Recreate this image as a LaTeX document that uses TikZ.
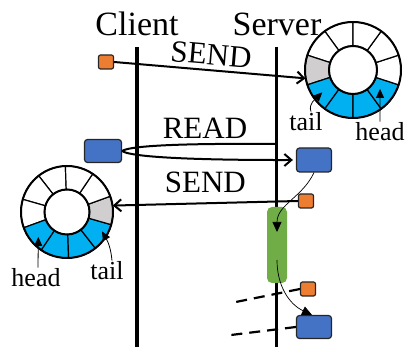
\documentclass[tikz,border=0pt]{standalone}
\usepackage{fontspec}
\setmainfont{Liberation Serif}
\usetikzlibrary{arrows.meta, positioning, calc}
\definecolor{azulbloque}{HTML}{4472C4}
\definecolor{naranjabloque}{HTML}{ED7D31}
\definecolor{verdebloque}{HTML}{70AD47}
\definecolor{azulanillo}{HTML}{00B0F0}
\definecolor{grisanillo}{HTML}{D0CECE}
\colorlet{colBorde}{black!85}
\tikzset{
  bloqueBase/.style={draw=colBorde, line width=1.2pt, rounded corners=3pt, inner sep=0pt},
  bloqueAzul/.style={bloqueBase, fill=azulbloque, minimum width=35pt, minimum height=23pt},
  bloqueNaranja/.style={bloqueBase, fill=naranjabloque, rounded corners=2pt,
    minimum width=15pt, minimum height=14pt},
  bloqueVerde/.style={fill=verdebloque, rounded corners=5pt, inner sep=0pt,
    minimum width=20pt, minimum height=76pt},
  anillo/.style={circle, minimum size=#1, inner sep=0pt},
  segmento/.style={draw=black, line width=1.2pt},
  bordeAnillo/.style={draw=black, line width=2pt},
  lineaVida/.style={line width=3.5pt},
  linea/.style={line width=2pt},
  flecha/.style={-{Straight Barb[length=7pt, width=12pt]}, line width=2pt},
  punteada/.style={line width=2.2pt, dash pattern=on 11pt off 7pt},
  puntero/.style={-{Triangle[length=9pt, width=8pt]}, line width=0.8pt},
  punteroFino/.style={-{Triangle[length=10pt, width=9pt]}, line width=0.7pt},
  etiquetaTitulo/.style={font=\fontsize{34}{40}\selectfont},
  etiquetaMensaje/.style={font=\fontsize{31}{36}\selectfont, inner sep=2pt},
  etiquetaAnillo/.style={font=\fontsize{26}{30}\selectfont, inner sep=1pt},
}
\begin{document}
\begin{tikzpicture}[x=1pt, y=1pt]
  \useasboundingbox (0,0) rectangle (405,347);
  % lineas de vida
  \coordinate (cArriba) at (137,300);
  \coordinate (cAbajo) at (137,0);
  \coordinate (sArriba) at (276.5,300);
  \coordinate (sAbajo) at (276.5,0);
  \node[etiquetaTitulo] (cliente) at (137,323) {Client};
  \node[etiquetaTitulo] (servidor) at (277,323) {Server};
  \draw[lineaVida] (cArriba) -- (cAbajo);
  \draw[lineaVida] (sArriba) -- (sAbajo);

  % anillo del servidor
  \node[anillo=96pt] (anilloDer) at (353,277) {};
  \foreach \a/\c in {90/white, 126/white, 162/grisanillo, 198/azulanillo, 234/azulanillo,
                     270/azulanillo, 306/azulanillo, 342/white, 18/white, 54/white} {
    \filldraw[segmento, fill=\c] ([shift={(\a:24pt)}]anilloDer.center)
      arc[start angle=\a, end angle=\a+36, radius=24pt]
      -- ([shift={(\a+36:48pt)}]anilloDer.center)
      arc[start angle=\a+36, end angle=\a, radius=48pt] -- cycle;
  }
  \draw[bordeAnillo] (anilloDer.center) circle[radius=48pt];
  \draw[bordeAnillo] (anilloDer.center) circle[radius=24pt];

  % anillo del cliente
  \node[anillo=92pt] (anilloIzq) at (67,135) {};
  \foreach \a/\c in {92/white, 128/white, 164/white, 200/azulanillo, 236/azulanillo,
                     272/azulanillo, 308/azulanillo, 344/grisanillo, 20/white, 56/white} {
    \filldraw[segmento, fill=\c] ([shift={(\a:22.5pt)}]anilloIzq.center)
      arc[start angle=\a, end angle=\a+36, radius=22.5pt]
      -- ([shift={(\a+36:46pt)}]anilloIzq.center)
      arc[start angle=\a+36, end angle=\a, radius=46pt] -- cycle;
  }
  \draw[bordeAnillo] (anilloIzq.center) circle[radius=46pt];
  \draw[bordeAnillo] (anilloIzq.center) circle[radius=22.5pt];

  % head / tail
  \node[etiquetaAnillo] (colaDer) at (306,225) {tail};
  \node[etiquetaAnillo] (cabezaDer) at (380,215) {head};
  \node[etiquetaAnillo] (cabezaIzq) at (36,69) {head};
  \node[etiquetaAnillo] (colaIzq) at (107,76) {tail};
  \coordinate (puntaColaDer) at ($(anilloDer.center)+(216:38pt)$);
  \coordinate (puntaCabezaDer) at ($(anilloDer.center)+(325:33pt)$);
  \coordinate (puntaCabezaIzq) at ($(anilloIzq.center)+(221:38pt)$);
  \coordinate (puntaColaIzq) at ($(anilloIzq.center)+(331:40pt)$);
  \draw[puntero] ([xshift=5pt]colaDer.north) to[out=110, in=225] (puntaColaDer);
  \draw[puntero] (cabezaDer.north) -- (puntaCabezaDer);
  \draw[puntero] ([xshift=2pt]cabezaIzq.north) -- (puntaCabezaIzq);
  \draw[puntero] ([xshift=5pt]colaIzq.north) to[out=95, in=-60] (puntaColaIzq);

  % SEND arriba
  \node[bloqueNaranja] (envio1) at (106,285) {};
  \draw[flecha] (envio1.east) -- (anilloDer.190)
    node[midway, above=2pt, sloped, etiquetaMensaje] {SEND};

  % READ
  \node[bloqueAzul, minimum width=37pt] (lecturaCli) at (103,196) {};
  \node[bloqueAzul, minimum height=24pt] (lecturaSrv) at (314,187) {};
  \coordinate (peticion) at (276.5,203);
  \draw[linea] (lecturaCli.east) to[out=35, in=180, looseness=0.25] (peticion);
  \draw[flecha, shorten >=3pt] (lecturaCli.east) to[out=-35, in=180, looseness=0.25] (lecturaSrv.west);
  \node[etiquetaMensaje] (etiqLectura) at (205,219) {READ};

  % SEND abajo
  \node[bloqueNaranja] (envio2) at (306,146) {};
  \draw[flecha] (envio2.west) -- (anilloIzq.8)
    node[midway, above=7pt, etiquetaMensaje] {SEND};

  % procesamiento en el servidor
  \node[bloqueVerde] (proceso) at (277,102) {};
  \node[bloqueNaranja] (envio3) at (308,58) {};
  \node[bloqueAzul] (respuesta) at (314,20) {};
  \draw[punteroFino] (lecturaSrv.south) to[out=-115, in=90] ([yshift=13pt]proceso.center);
  \draw[punteroFino] ([yshift=-15pt]proceso.center) to[out=-90, in=155] ([xshift=-2pt]respuesta.north);
  \coordinate (corte1) at (231,44);
  \coordinate (corte2) at (231,12);
  \draw[punteada] (envio3.west) -- (corte1);
  \draw[punteada] (respuesta.west) -- (corte2);
\end{tikzpicture}
\end{document}
